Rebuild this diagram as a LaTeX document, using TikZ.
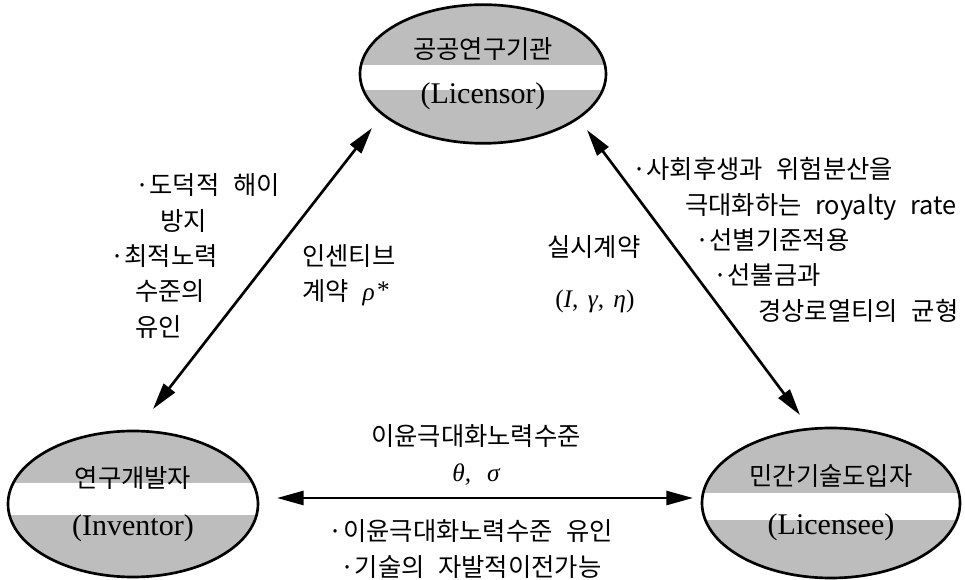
\documentclass[tikz,border=0pt]{standalone}
\usepackage{fontspec}
\setmainfont{Liberation Serif}
\newfontfamily\kr{Noto Sans CJK KR}[WordSpace=2.4]
\newfontfamily\greek{Liberation Serif}
\usetikzlibrary{shapes.geometric}
\usetikzlibrary{arrows.meta}

\tikzset{
  party/.style 2 args={ellipse, draw, line width=2pt, fill=black!26, inner sep=0pt, align=center,
    font=\fontsize{22.5}{24}\selectfont,
    path picture={\fill[white] ([yshift=#1]path picture bounding box.west) rectangle ([yshift=#2]path picture bounding box.east);}},
  lab/.style={font=\kr\fontsize{19}{26.5}\selectfont, inner sep=0pt},
  biarrow/.style={{Triangle[length=20pt,width=10.5pt]}-{Triangle[length=20pt,width=10.5pt]}, line width=2pt}
}

\begin{document}
\begin{tikzpicture}[x=0.75pt,y=0.75pt,yscale=-1,xscale=1]
\useasboundingbox (0,0) rectangle (965,580);

%Ellipse: Licensor
\draw (483,74) node [party={6.75pt}{-12pt}, minimum width=184.5pt, minimum height=104pt] (lic)
  {{\kr\fontsize{19}{20}\selectfont 공공연구기관}\\[10pt](Licensor)};
%Ellipse: Inventor
\draw (133,504) node [party={15.75pt}{-8.25pt}, minimum width=187.5pt, minimum height=109.5pt] (inv)
  {{\kr\fontsize{19}{20}\selectfont 연구개발자}\\[12pt](Inventor)};
%Ellipse: Licensee
\draw (831,503) node [party={7.5pt}{-12.75pt}, minimum width=193.5pt, minimum height=112.5pt] (lee)
  {{\kr\fontsize{19}{20}\selectfont 민간기술도입자}\\[13pt](Licensee)};

%Arrow ends
\coordinate (invUp) at (153,409);
\coordinate (licLeft) at (372,128);
\coordinate (licRight) at (587,130);
\coordinate (leeUp) at (800,415);
\coordinate (invRight) at (277,498);
\coordinate (leeLeft) at (693,498);

%Straight Lines
\draw [biarrow] (invUp) -- (licLeft);
\draw [biarrow] (leeUp) -- (licRight);
\draw [biarrow] (invRight) -- (leeLeft);

% Text Node
\draw (110,256) node [lab, anchor=west, align=left] (moral)
  {\hspace*{18.75pt}·도덕적 해이\\\hspace*{37.5pt}방지\\·최적노력\\\hspace*{18.75pt}수준의\\\hspace*{18.75pt}유인};
% Text Node
\draw (302,275.5) node [lab, anchor=west, align=left] (incentive)
  {인센티브\\계약 {\greek\itshape ρ\kern1pt\raisebox{2pt}{*}}};
% Text Node
\draw (547,274) node [lab, anchor=west, align=left] (licence)
  {실시계약\\[12pt]\hspace*{6pt}{\greek(\textit{I},\hspace{7pt}\textit{γ},\hspace{7pt}\textit{η})}};
% Text Node
\draw (632,240) node [lab, anchor=west, align=left] (royalty)
  {·사회후생과 위험분산을\\\hspace*{39.75pt}극대화하는 royalty rate\\\hspace*{47.25pt}·선별기준적용\\\hspace*{60.75pt}·선불금과\\\hspace*{94.5pt}경상로열티의 균형};
% Text Node
\draw (476,455) node [lab, align=center] (effort)
  {이윤극대화노력수준\\{\greek\itshape θ,\hspace{12pt}σ}};
% Text Node
\draw (471,549) node [lab, align=center] (transfer)
  {·이윤극대화노력수준 유인\\·기술의 자발적이전가능};

\end{tikzpicture}
\end{document}
